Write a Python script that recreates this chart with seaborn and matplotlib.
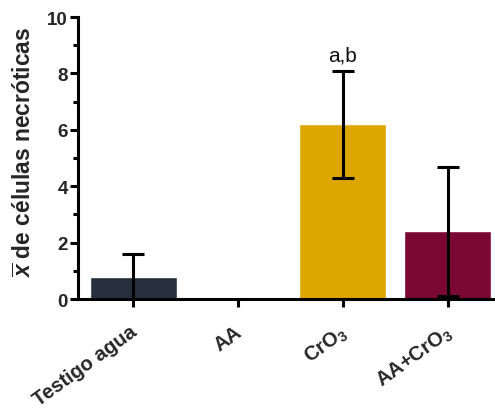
import matplotlib
matplotlib.use("Agg")
import matplotlib.pyplot as plt
import matplotlib.transforms as mtransforms
import seaborn as sns
import pandas as pd
from matplotlib.ticker import MultipleLocator

sns.set_theme(style="ticks")
plt.rcParams["font.family"] = ["Liberation Sans", "DejaVu Sans"]
plt.rcParams["mathtext.fontset"] = "custom"
plt.rcParams["mathtext.default"] = "regular"
plt.rcParams["mathtext.it"] = "Liberation Sans:italic:bold"
plt.rcParams["mathtext.rm"] = "Liberation Sans:bold"
plt.rcParams["mathtext.bf"] = "Liberation Sans:bold"

categories = ["Testigo agua", "AA", "CrO$_3$", "AA+CrO$_3$"]
means = [0.8, 0.0, 6.2, 2.4]
errors = [0.8, 0.0, 1.9, 2.3]
colors = ["#262f3c", "#ffffff", "#dda600", "#7b0832"]
annotations = ["", "", "a,b", ""]

df = pd.DataFrame({"grupo": categories, "media": means})

fig = plt.figure(figsize=(4.95, 4.1), dpi=100)
ax = fig.add_axes([0.158, 0.268, 0.842, 0.688])

sns.barplot(data=df, x="grupo", y="media", hue="grupo", palette=colors,
            order=categories, legend=False, width=0.83, errorbar=None,
            saturation=1, ax=ax)

for i, (m, e) in enumerate(zip(means, errors)):
    if e > 0:
        ax.errorbar(i, m, yerr=e, fmt="none", ecolor="black",
                    elinewidth=2.2, capsize=8, capthick=2.2, zorder=3)
    if annotations[i]:
        ax.text(i, m + e + 0.35, annotations[i], ha="center", va="baseline",
                fontsize=15, color="#111111")

ax.set_ylim(0, 10)
ax.set_xlim(-0.525, 3.45)
ax.yaxis.set_major_locator(MultipleLocator(2))
ax.yaxis.set_minor_locator(MultipleLocator(1))
ax.set_xlabel("")
ax.set_ylabel(r"$\overline{\mathit{x}}$ de células necróticas",
              fontsize=16.4, fontweight="bold", labelpad=8)
ax.yaxis.label.set_y(0.525)

for s in ["top", "right"]:
    ax.spines[s].set_visible(False)
for s in ["left", "bottom"]:
    ax.spines[s].set_linewidth(2.2)
    ax.spines[s].set_color("black")

ax.tick_params(axis="both", which="major", length=5.5, width=2.2,
               color="black", labelsize=13.5, pad=2)
ax.tick_params(axis="y", which="minor", length=3.5, width=2.2, color="black")
for lab in ax.get_yticklabels():
    lab.set_fontweight("bold")
ax.set_xticks(range(len(categories)))
ax.set_xticklabels(categories, rotation=36, ha="right", va="top",
                   rotation_mode="anchor", fontweight="bold", fontsize=14.5)
shift = mtransforms.ScaledTranslation(-4 / 100, -12 / 100, fig.dpi_scale_trans)
for lab in ax.get_xticklabels():
    lab.set_transform(lab.get_transform() + shift)

fig.savefig("out.png", dpi=100)
